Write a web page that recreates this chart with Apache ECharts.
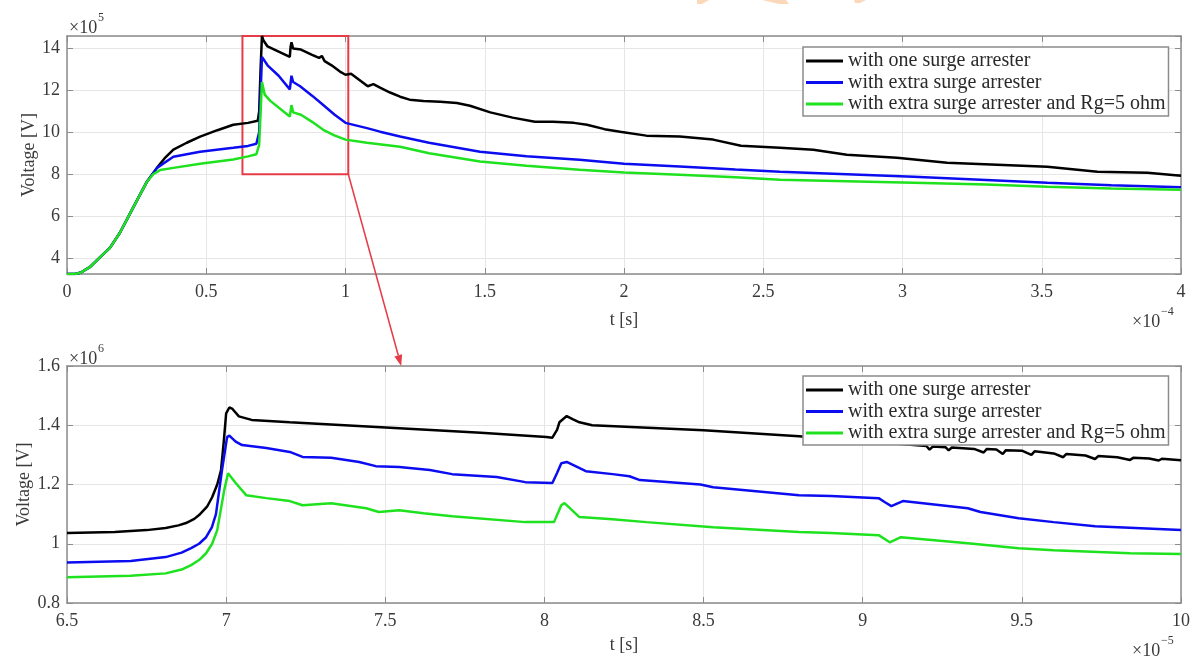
<!DOCTYPE html>
<html>
<head>
<meta charset="utf-8">
<title>Voltage with surge arresters</title>
<script src="https://cdn.jsdelivr.net/npm/echarts@6/dist/echarts.min.js"></script>
<style>
  html, body { margin: 0; padding: 0; background: #fff; }
  #chart { width: 1193px; height: 659px; }
</style>
</head>
<body>
<div id="chart"></div>
<script>
// Series names
const seriesNames = [
  'with one surge arrester',
  'with extra surge arrester',
  'with extra surge arrester and Rg=5 ohm'
];
const seriesColors = ['#000000', '#0c0cf0', '#1ee21e'];

// Overview: time in units of 1e-4 s, voltage in units of 1e5 V
const overviewOne = [
  [0, 3.23], [0.03, 3.23], [0.05, 3.3], [0.083, 3.57], [0.12, 4.05], [0.154, 4.48], [0.19, 5.2],
  [0.237, 6.39], [0.287, 7.64], [0.323, 8.3], [0.35, 8.75], [0.382, 9.17], [0.43, 9.5],
  [0.478, 9.79], [0.54, 10.1], [0.597, 10.36], [0.65, 10.45], [0.685, 10.55], [0.69, 11.0],
  [0.695, 13.0], [0.70, 14.6], [0.705, 14.4], [0.72, 14.1], [0.76, 13.85], [0.80, 13.6],
  [0.803, 14.1], [0.806, 14.3], [0.812, 14.0], [0.84, 13.95], [0.88, 13.7], [0.905, 13.55],
  [0.915, 13.65], [0.925, 13.4], [0.95, 13.2], [0.98, 12.9], [1.0, 12.75], [1.02, 12.8],
  [1.05, 12.5], [1.08, 12.2], [1.1, 12.3], [1.124, 12.13], [1.16, 11.9], [1.196, 11.7],
  [1.23, 11.56], [1.28, 11.5], [1.34, 11.46], [1.4, 11.4], [1.447, 11.27], [1.52, 10.95],
  [1.6, 10.7], [1.68, 10.5], [1.745, 10.5], [1.82, 10.45], [1.867, 10.36], [1.93, 10.15],
  [1.986, 10.03], [2.08, 9.84], [2.2, 9.8], [2.32, 9.65], [2.42, 9.36], [2.56, 9.26],
  [2.68, 9.17], [2.8, 8.93], [2.98, 8.78], [3.16, 8.55], [3.25, 8.5], [3.52, 8.35],
  [3.70, 8.11], [3.88, 8.07], [4.0, 7.92]
];
const overviewExtra = [
  [0, 3.23], [0.03, 3.23], [0.05, 3.3], [0.083, 3.57], [0.12, 4.05], [0.154, 4.48], [0.19, 5.2],
  [0.237, 6.39], [0.287, 7.64], [0.323, 8.3], [0.382, 8.83], [0.478, 9.07], [0.597, 9.26],
  [0.65, 9.35], [0.68, 9.45], [0.69, 10.0], [0.70, 13.6], [0.72, 13.2], [0.76, 12.7],
  [0.80, 12.05], [0.806, 12.7], [0.812, 12.4], [0.837, 12.2], [0.88, 11.75], [0.92, 11.3],
  [0.96, 10.85], [1.0, 10.45], [1.077, 10.2], [1.124, 10.03], [1.196, 9.8], [1.3, 9.5],
  [1.483, 9.07], [1.65, 8.85], [1.84, 8.69], [2.0, 8.5], [2.2, 8.36], [2.4, 8.22],
  [2.56, 8.11], [2.8, 8.0], [3.04, 7.88], [3.3, 7.72], [3.52, 7.59], [3.75, 7.47], [4.0, 7.38]
];
const overviewExtraRg = [
  [0, 3.23], [0.03, 3.23], [0.05, 3.3], [0.083, 3.57], [0.12, 4.05], [0.154, 4.48], [0.19, 5.2],
  [0.237, 6.39], [0.287, 7.64], [0.31, 8.0], [0.335, 8.2], [0.382, 8.3], [0.478, 8.5],
  [0.597, 8.7], [0.65, 8.85], [0.68, 8.95], [0.69, 9.4], [0.70, 12.4], [0.71, 11.8],
  [0.73, 11.5], [0.80, 10.75], [0.806, 11.3], [0.812, 10.95], [0.84, 10.84], [0.88, 10.5],
  [0.92, 10.12], [0.96, 9.85], [1.0, 9.65], [1.077, 9.5], [1.196, 9.31], [1.3, 9.0],
  [1.483, 8.6], [1.65, 8.4], [1.84, 8.21], [2.0, 8.08], [2.2, 7.97], [2.4, 7.85],
  [2.56, 7.73], [2.8, 7.66], [3.04, 7.59], [3.3, 7.5], [3.52, 7.4], [3.75, 7.32], [4.0, 7.25]
];

// Detail: time in units of 1e-5 s, voltage in units of 1e6 V
const detailOne = [
  [6.5, 1.036], [6.65, 1.04], [6.75, 1.046], [6.81, 1.053], [6.85, 1.062], [6.874, 1.07],
  [6.9, 1.084], [6.915, 1.097], [6.94, 1.125], [6.956, 1.157], [6.972, 1.2], [6.984, 1.249],
  [6.993, 1.35], [7.0, 1.44], [7.01, 1.46], [7.02, 1.455], [7.04, 1.43], [7.08, 1.418],
  [7.2, 1.41], [7.544, 1.39], [7.8, 1.375], [8.006, 1.36], [8.025, 1.358], [8.04, 1.385],
  [8.047, 1.41], [8.07, 1.431], [8.09, 1.42], [8.11, 1.41], [8.15, 1.40], [8.5, 1.383],
  [8.80, 1.363], [9.0, 1.345], [9.1, 1.338], [9.2, 1.33], [9.21, 1.318], [9.22, 1.328],
  [9.26, 1.326], [9.27, 1.315], [9.28, 1.325], [9.35, 1.32], [9.38, 1.308], [9.39, 1.32],
  [9.42, 1.318], [9.44, 1.303], [9.45, 1.316], [9.5, 1.314], [9.53, 1.3], [9.54, 1.312],
  [9.6, 1.305], [9.63, 1.292], [9.64, 1.303], [9.7, 1.298], [9.73, 1.286], [9.74, 1.296],
  [9.8, 1.292], [9.84, 1.283], [9.85, 1.29], [9.9, 1.288], [9.93, 1.281], [9.94, 1.287],
  [10.0, 1.282]
];
const detailExtra = [
  [6.5, 0.937], [6.7, 0.942], [6.81, 0.955], [6.86, 0.97], [6.89, 0.985], [6.915, 1.0],
  [6.937, 1.022], [6.955, 1.055], [6.968, 1.10], [6.987, 1.249], [7.003, 1.36], [7.01, 1.365],
  [7.03, 1.345], [7.05, 1.333], [7.126, 1.323], [7.2, 1.31], [7.24, 1.293], [7.33, 1.29],
  [7.418, 1.276], [7.47, 1.262], [7.544, 1.259], [7.64, 1.249], [7.71, 1.235], [7.85, 1.225],
  [7.94, 1.208], [8.025, 1.205], [8.04, 1.24], [8.053, 1.272], [8.07, 1.276], [8.13, 1.245],
  [8.214, 1.235], [8.267, 1.228], [8.30, 1.215], [8.49, 1.20], [8.53, 1.191], [8.80, 1.164],
  [8.9, 1.161], [9.05, 1.154], [9.07, 1.14], [9.09, 1.127], [9.126, 1.144], [9.33, 1.12],
  [9.37, 1.107], [9.49, 1.086], [9.60, 1.073], [9.73, 1.059], [10.0, 1.046]
];
const detailExtraRg = [
  [6.5, 0.887], [6.7, 0.892], [6.81, 0.90], [6.86, 0.913], [6.89, 0.928], [6.915, 0.945],
  [6.937, 0.968], [6.956, 1.0], [6.972, 1.046], [6.994, 1.181], [7.006, 1.238], [7.03, 1.205],
  [7.063, 1.164], [7.126, 1.154], [7.2, 1.144], [7.24, 1.13], [7.33, 1.137], [7.44, 1.12],
  [7.48, 1.107], [7.544, 1.113], [7.62, 1.103], [7.71, 1.093], [7.94, 1.073], [8.03, 1.073],
  [8.053, 1.13], [8.063, 1.137], [8.11, 1.09], [8.214, 1.083], [8.32, 1.073], [8.53, 1.056],
  [8.80, 1.04], [8.9, 1.036], [9.05, 1.029], [9.085, 1.005], [9.12, 1.022], [9.33, 1.002],
  [9.49, 0.985], [9.60, 0.978], [9.84, 0.968], [10.0, 0.965]
];

// Axis ranges
const overviewX = { min: 0, max: 4, interval: 0.5 };
const overviewY = { min: 3.23, max: 14.6, step: 2 };
const detailX = { min: 6.5, max: 10, interval: 0.5 };
const detailY = { min: 0.8, max: 1.6, interval: 0.2 };

// Zoomed window (overview units) and the arrow target on the detail plot
const zoomBox = { x0: 0.63, x1: 1.01, y0: 8.0, y1: 14.6 };
const arrowEnd = [7.55, 1.6];

const FONT = 'Liberation Serif';
const AXIS_GREY = '#8c8c8c';
const TEXT_COLOR = '#3a3a3a';

function fmt(v) {
  return String(Math.round(v * 1000) / 1000);
}

function baseAxis(extra) {
  return Object.assign({
    type: 'value',
    axisLine: { show: true, onZero: false, lineStyle: { color: AXIS_GREY, width: 1.5 } },
    axisTick: { show: true, inside: true, length: 6, lineStyle: { color: AXIS_GREY, width: 1 } },
    splitLine: { show: false },
    axisLabel: { show: false },
    nameMoveOverlap: false,
    nameTextStyle: { fontFamily: FONT, fontSize: 18, color: TEXT_COLOR }
  }, extra);
}

function mainX(gridIndex, range, gap) {
  return baseAxis({
    gridIndex, position: 'bottom',
    min: range.min, max: range.max, interval: range.interval,
    name: 't [s]', nameLocation: 'middle', nameGap: gap,
    splitLine: { show: true, lineStyle: { color: '#e6e6e6', width: 1 } },
    axisLabel: { show: true, fontFamily: FONT, fontSize: 18, color: TEXT_COLOR, margin: 9, formatter: fmt }
  });
}
function sideX(gridIndex, range) {
  return baseAxis({ gridIndex, position: 'top', min: range.min, max: range.max, interval: range.interval });
}
function mainY(gridIndex, yr, fixedInterval, gap) {
  const ax = baseAxis({
    gridIndex, position: 'left',
    min: yr.min, max: yr.max,
    name: 'Voltage [V]', nameLocation: 'middle', nameGap: gap,
    splitLine: { show: true, lineStyle: { color: '#e6e6e6', width: 1 } },
    axisLabel: { show: true, fontFamily: FONT, fontSize: 18, color: TEXT_COLOR, margin: 7, formatter: fmt }
  });
  if (fixedInterval) {
    ax.interval = yr.interval;
  } else {
    ax.minInterval = yr.step; ax.maxInterval = yr.step; ax.splitNumber = 5;
    ax.axisLabel.showMinLabel = false; ax.axisLabel.showMaxLabel = false;
  }
  return ax;
}
function sideY(gridIndex, yr, fixedInterval) {
  const ax = baseAxis({ gridIndex, position: 'right', min: yr.min, max: yr.max });
  if (fixedInterval) ax.interval = yr.interval;
  else { ax.minInterval = yr.step; ax.maxInterval = yr.step; ax.splitNumber = 5; }
  return ax;
}

function lineSeries(name, data, color, xi, yi, width) {
  return {
    name, type: 'line', data, xAxisIndex: xi, yAxisIndex: yi,
    showSymbol: false, symbol: 'none', smooth: false, clip: true,
    lineStyle: { color, width }, itemStyle: { color },
    emphasis: { disabled: true }
  };
}

function legendAt(top) {
  return {
    data: seriesNames, orient: 'vertical', left: 803, top,
    icon: 'rect', itemWidth: 37, itemHeight: 3, itemGap: 1.5,
    padding: [4, 3, 2, 3],
    backgroundColor: '#ffffff', borderColor: AXIS_GREY, borderWidth: 1.5, borderRadius: 0,
    textStyle: { fontFamily: FONT, fontSize: 20, color: '#2a2a2a', lineHeight: 18, height: 18 },
    selectedMode: false
  };
}

function exponentLabel(x, y, sup) {
  return [
    { type: 'text', left: x, top: y, z: 100,
      style: { text: '×10', font: '18px "' + FONT + '"', fill: TEXT_COLOR } },
    { type: 'text', left: x + 29, top: y - 7, z: 100,
      style: { text: sup, font: '12px "' + FONT + '"', fill: TEXT_COLOR } }
  ];
}

const chart = echarts.init(document.getElementById('chart'), null, { renderer: 'canvas' });

const series = [
  lineSeries(seriesNames[0], overviewOne, seriesColors[0], 0, 0, 2.5),
  lineSeries(seriesNames[1], overviewExtra, seriesColors[1], 0, 0, 2.5),
  lineSeries(seriesNames[2], overviewExtraRg, seriesColors[2], 0, 0, 2.5),
  lineSeries(seriesNames[0], detailOne, seriesColors[0], 2, 2, 2.5),
  lineSeries(seriesNames[1], detailExtra, seriesColors[1], 2, 2, 2.5),
  lineSeries(seriesNames[2], detailExtraRg, seriesColors[2], 2, 2, 2.5)
];
// Red frame marking the zoomed window in the overview
series[2].markArea = {
  silent: true,
  itemStyle: { color: 'rgba(0,0,0,0)', borderColor: '#e63c48', borderWidth: 2 },
  data: [[{ coord: [zoomBox.x0, zoomBox.y0] }, { coord: [zoomBox.x1, zoomBox.y1] }]]
};

chart.setOption({
  animation: false,
  backgroundColor: '#ffffff',
  grid: [
    { left: 67, right: 12, top: 36, height: 238, containLabel: false },
    { left: 67, right: 12, top: 366, height: 237, containLabel: false }
  ],
  xAxis: [
    mainX(0, overviewX, 37), sideX(0, overviewX),
    mainX(1, detailX, 33), sideX(1, detailX)
  ],
  yAxis: [
    mainY(0, overviewY, false, 29), sideY(0, overviewY, false),
    mainY(1, detailY, true, 34), sideY(1, detailY, true)
  ],
  legend: [legendAt(47), legendAt(376)],
  series
});

// Arrow from the frame corner to the detail plot, plus exponent labels
const p0 = chart.convertToPixel({ gridIndex: 0 }, [zoomBox.x1, zoomBox.y0]);
const p1 = chart.convertToPixel({ gridIndex: 1 }, arrowEnd);
const ang = Math.atan2(p1[1] - p0[1], p1[0] - p0[0]);
const headLen = 11, headHalf = 4;
const bx = p1[0] - headLen * Math.cos(ang), by = p1[1] - headLen * Math.sin(ang);
const nx = -Math.sin(ang), ny = Math.cos(ang);

const graphics = [
  { type: 'line', z: 90, shape: { x1: p0[0], y1: p0[1], x2: bx, y2: by },
    style: { stroke: '#e63c48', lineWidth: 1.6 } },
  { type: 'polygon', z: 90,
    shape: { points: [[p1[0], p1[1]], [bx + nx * headHalf, by + ny * headHalf], [bx - nx * headHalf, by - ny * headHalf]] },
    style: { fill: '#e63c48' } },
  // faint orange marks along the top edge
  { type: 'polygon', z: 1, shape: { points: [[697, 0], [709, 0], [702, 4], [697, 4]] }, style: { fill: '#fcd8ba' } },
  { type: 'polygon', z: 1, shape: { points: [[762, 0], [786, 0], [789, 4], [779, 4]] }, style: { fill: '#fcd8ba' } },
  { type: 'polygon', z: 1, shape: { points: [[854, 0], [866, 0], [860, 3], [855, 3]] }, style: { fill: '#fcd8ba' } }
].concat(
  exponentLabel(69, 19, '5'),
  exponentLabel(1132, 313, '\u22124'),
  exponentLabel(69, 350, '6'),
  exponentLabel(1132, 642, '\u22125')
);

chart.setOption({ graphic: graphics });
</script>
</body>
</html>
